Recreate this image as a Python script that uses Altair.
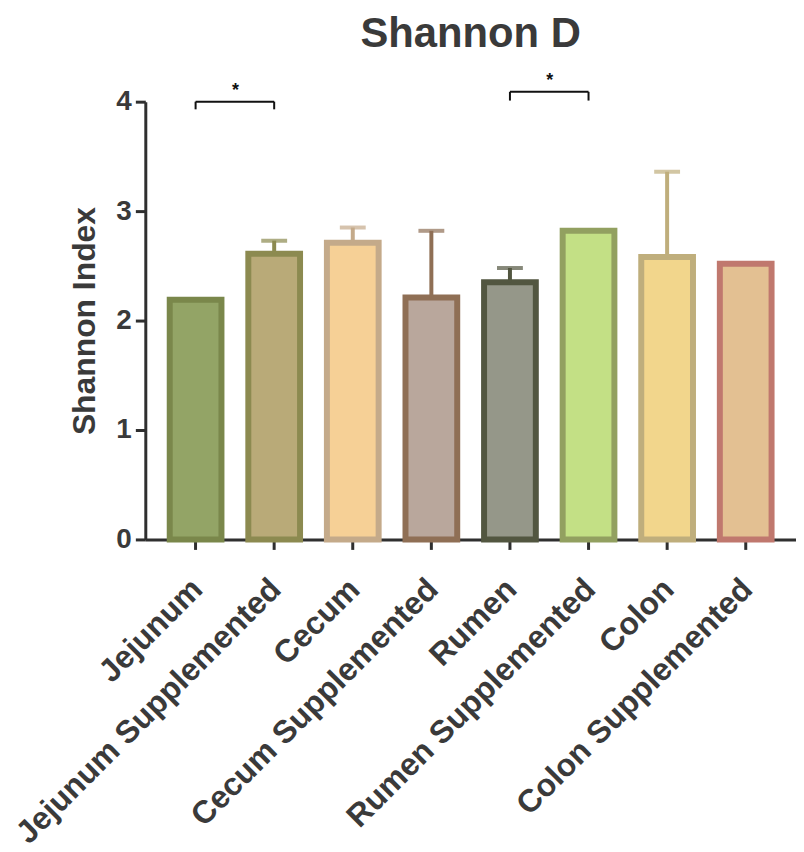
import altair as alt
import pandas as pd

categories = ["Jejunum", "Jejunum Supplemented", "Cecum", "Cecum Supplemented",
              "Rumen", "Rumen Supplemented", "Colon", "Colon Supplemented"]
means = [2.19, 2.61, 2.71, 2.21, 2.35, 2.82, 2.58, 2.52]
errors = [0.0, 0.12, 0.14, 0.61, 0.13, 0.0, 0.78, 0.0]
fills = ["#93a466", "#b9aa78", "#f6d096", "#b9a79c", "#959789", "#c3e085", "#f2d68c", "#e3c092"]
strokes = ["#7a874b", "#8c8a50", "#c4aa8a", "#8f6f55", "#525640", "#92a060", "#bfae7c", "#c0786e"]

# significance brackets
br_from = ["Jejunum", "Rumen"]
br_to = ["Jejunum Supplemented", "Rumen Supplemented"]
br_y = [4.0, 4.09]
br_low = [3.93, 4.01]
br_star_y = [4.1, 4.19]

df = pd.DataFrame({"cat": categories, "mean": means, "err": errors})
df["top"] = df["mean"] + df["err"]
err_df = df[df["err"] > 0]

br = pd.DataFrame({"a": br_from, "b": br_to, "y": br_y, "low": br_low, "sy": br_star_y})
drops = pd.DataFrame({"cat": br_from + br_to, "y": br_y + br_y, "low": br_low + br_low})

xscale = alt.Scale(domain=categories, paddingInner=0, paddingOuter=0.14)
yscale = alt.Scale(domain=[0, 4], nice=False)
fill_scale = alt.Scale(domain=categories, range=fills)
stroke_scale = alt.Scale(domain=categories, range=strokes)

x_enc = alt.X("cat:N", scale=xscale, sort=categories, title=None,
              axis=alt.Axis(labelAngle=-45, labelAlign="right", labelBaseline="top",
                            labelFontSize=32, labelFontWeight="bold", labelFont="Liberation Sans",
                            labelColor="#3a3a3a", labelPadding=24, labelOffset=-9, labelLimit=0,
                            tickSize=10, tickWidth=3,
                            tickColor="#2f2f2f", domainColor="#2f2f2f", domainWidth=3))

bars = alt.Chart(df).mark_bar(size=52, strokeWidth=6).encode(
    x=x_enc,
    y=alt.Y("mean:Q", scale=yscale, title="Shannon Index",
            axis=alt.Axis(values=[0, 1, 2, 3, 4], format="d", labelFontSize=28, labelFontWeight="bold",
                          labelFont="Liberation Sans", labelColor="#3a3a3a",
                          titleFontSize=32, titleFont="Liberation Sans", titleFontWeight="bold",
                          titleColor="#3a3a3a", titlePadding=14, labelPadding=4,
                          tickSize=10, tickWidth=3, tickColor="#2f2f2f",
                          domainColor="#2f2f2f", domainWidth=3, grid=False)),
    fill=alt.Fill("cat:N", scale=fill_scale, legend=None),
    stroke=alt.Stroke("cat:N", scale=stroke_scale, legend=None),
)

whisk = alt.Chart(err_df).mark_rule(strokeWidth=4).encode(
    x=alt.X("cat:N", scale=xscale, sort=categories),
    y=alt.Y("mean:Q", scale=yscale),
    y2="top:Q",
    color=alt.Color("cat:N", scale=stroke_scale, legend=None),
)

caps = alt.Chart(err_df).mark_tick(orient="horizontal", size=26, thickness=4).encode(
    x=alt.X("cat:N", scale=xscale, sort=categories),
    y=alt.Y("top:Q", scale=yscale),
    color=alt.Color("cat:N", scale=stroke_scale, legend=None),
)

br_h = alt.Chart(br).mark_rule(strokeWidth=2, color="#111111").encode(
    x=alt.X("a:N", scale=xscale, sort=categories),
    x2="b:N",
    y=alt.Y("y:Q", scale=yscale),
)

br_v = alt.Chart(drops).mark_rule(strokeWidth=2, color="#111111").encode(
    x=alt.X("cat:N", scale=xscale, sort=categories),
    y=alt.Y("y:Q", scale=yscale),
    y2="low:Q",
)

stars = alt.Chart(br).mark_text(text="*", fontSize=18, fontWeight="bold", color="#111111", dx=40).encode(
    x=alt.X("a:N", scale=xscale, sort=categories),
    y=alt.Y("sy:Q", scale=yscale),
)

chart = alt.layer(bars, whisk, caps, br_h, br_v, stars).properties(
    width=654, height=440,
    title=alt.Title("Shannon D", fontSize=42, font="Liberation Sans", fontWeight="bold",
                    color="#3a3a3a", offset=16),
    padding={"left": 2, "top": 3, "right": 0, "bottom": 0},
).configure_view(stroke=None).configure_axis(grid=False)

chart.save("out.html", embed_options={"renderer": "svg", "actions": False})
